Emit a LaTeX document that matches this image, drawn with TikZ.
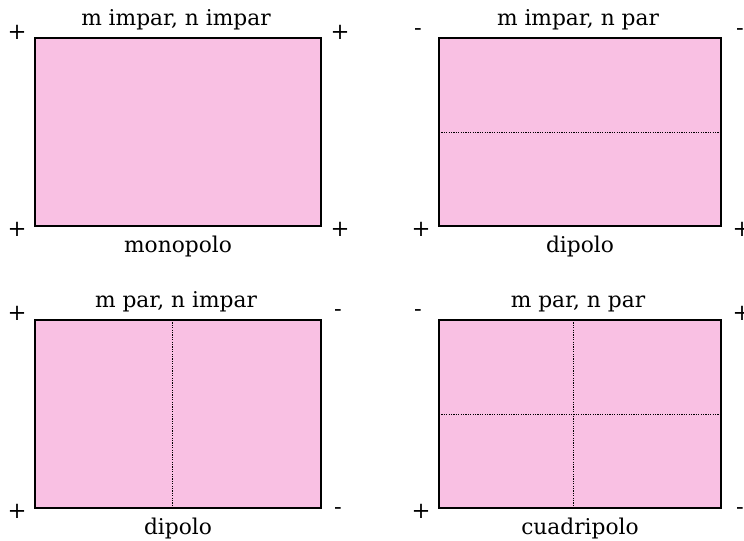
\documentclass[tikz,border=0pt]{standalone}
\usepackage{fontspec}
\setmainfont{DejaVu Serif}
\definecolor{pinkfill}{RGB}{249,192,227}
\tikzset{
  panel/.style={draw=black, fill=pinkfill, line width=0.9pt},
  divider/.style={dash pattern=on 0.9pt off 0.9pt, line width=0.7pt},
  lbl/.style={font=\fontsize{16.3}{19}\selectfont, inner sep=0pt, anchor=base},
  plus/.style={font=\fontsize{17}{19}\selectfont, inner sep=0pt},
  minus/.style={font=\fontsize{17}{19}\selectfont, inner sep=0pt}
}
\begin{document}
\begin{tikzpicture}[x=0.75pt,y=-0.75pt]
\useasboundingbox (0,0) rectangle (744,541);
% panels
\draw[panel] (35,38) rectangle (321,226);
\draw[panel] (439,38) rectangle (721,226);
\draw[panel] (35,320) rectangle (321,508);
\draw[panel] (439,320) rectangle (721,508);
% dividers
\coordinate (d1a) at (439,132); \coordinate (d1b) at (721,132);
\draw[divider] (d1a) -- (d1b);
\coordinate (d2a) at (172,320); \coordinate (d2b) at (172,508);
\draw[divider] (d2a) -- (d2b);
\coordinate (d3a) at (573,320); \coordinate (d3b) at (573,508);
\draw[divider] (d3a) -- (d3b);
\coordinate (d4a) at (439,414); \coordinate (d4b) at (721,414);
\draw[divider] (d4a) -- (d4b);
% titles and labels
\node[lbl] (t1) at (176,26) {m impar, n impar};
\node[lbl] (l1) at (178,253) {monopolo};
\node[lbl] (t2) at (578,26) {m impar, n par};
\node[lbl] (l2) at (580,253) {dipolo};
\node[lbl] (t3) at (176,308) {m par, n impar};
\node[lbl] (l3) at (178,535) {dipolo};
\node[lbl] (t4) at (578,308) {m par, n par};
\node[lbl] (l4) at (580,535) {cuadripolo};
% signs
\node[plus] (s1) at (17,32) {+};
\node[plus] (s2) at (340,32) {+};
\node[plus] (s3) at (17,229) {+};
\node[plus] (s4) at (340,229) {+};
\node[minus] (s5) at (418,32) {-};
\node[minus] (s6) at (740,32) {-};
\node[plus] (s7) at (421,229) {+};
\node[plus] (s8) at (742,229) {+};
\node[plus] (s9) at (17,313) {+};
\node[minus] (s10) at (338,313) {-};
\node[plus] (s11) at (17,511) {+};
\node[minus] (s12) at (338,511) {-};
\node[minus] (s13) at (418,313) {-};
\node[plus] (s14) at (742,313) {+};
\node[plus] (s15) at (421,511) {+};
\node[minus] (s16) at (740,511) {-};
\end{tikzpicture}
\end{document}
